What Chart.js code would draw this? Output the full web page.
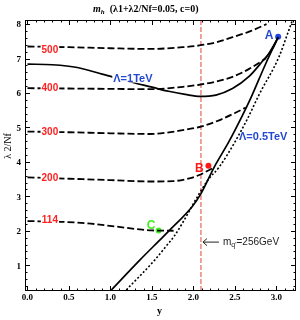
<!DOCTYPE html>
<html><head><meta charset="utf-8">
<script src="https://cdn.jsdelivr.net/npm/chart.js@4.4.0/dist/chart.umd.min.js"></script>
<style>html,body{margin:0;padding:0;background:#fff;}#wrap{width:300px;height:320px;}</style>
</head><body><div id="wrap"><canvas id="c" width="300" height="320"></canvas></div>
<script>
// ---- data ----
const mh500X = [0, 0.5, 1.0, 1.47, 1.87, 2.07, 2.27, 2.47, 2.67, 2.88];
const mh500Y = [7.35, 7.33, 7.30, 7.28, 7.33, 7.38, 7.47, 7.62, 7.78, 8.00];
const mh400X = [0, 0.5, 1.0, 1.47, 1.87, 2.07, 2.27, 2.47, 2.67, 2.87];
const mh400Y = [6.14, 6.13, 6.12, 6.11, 6.18, 6.24, 6.33, 6.47, 6.70, 7.00];
const mh400EndX = [2.87, 3.02];
const mh400EndY = [7.00, 7.62];
const mh300X = [0, 0.5, 1.0, 1.47, 1.87, 2.1, 2.3, 2.5, 2.63];
const mh300Y = [4.88, 4.86, 4.83, 4.81, 4.92, 5.03, 5.20, 5.42, 5.58];
const mh200X = [0, 0.5, 1.0, 1.47, 1.75, 1.95, 2.07, 2.25];
const mh200Y = [3.55, 3.51, 3.47, 3.43, 3.44, 3.52, 3.62, 3.84];
const mh114X = [0, 0.4, 0.7, 1.07, 1.35, 1.5, 1.76];
const mh114Y = [2.28, 2.26, 2.22, 2.12, 2.04, 2.01, 2.00];
const tev1X = [0, 0.3, 0.6, 0.9, 1.2, 1.5, 1.7, 1.9, 2.08, 2.27, 2.47, 2.67, 2.83, 2.95, 3.02];
const tev1Y = [6.84, 6.82, 6.74, 6.55, 6.35, 6.17, 6.05, 5.96, 5.90, 5.94, 6.13, 6.48, 6.92, 7.28, 7.62];
const boundX = [1.01, 1.35, 1.59, 1.71, 1.99, 2.09, 2.25, 2.43, 2.59, 2.69, 2.87, 3.02];
const boundY = [0.28, 1.14, 1.72, 2.01, 2.72, 3.08, 3.85, 4.60, 5.35, 5.85, 6.85, 7.62];
const tev05X = [1.19, 1.53, 1.67, 1.77, 2.17, 2.31, 2.49, 2.65, 2.79, 3.03, 3.13, 3.19];
const tev05Y = [0.28, 1.14, 1.55, 1.85, 3.46, 3.85, 4.54, 5.25, 5.95, 7.05, 7.70, 8.10];
const mqX = [2.09, 2.09];
const mqY = [0.25, 8.12];
const pointA = [3.02, 7.63];
const pointB = [2.18, 3.89];
const pointC = [1.58, 2.01];
const xTickValues = [0, 0.5, 1.0, 1.5, 2.0, 2.5, 3.0];
const xTickLabels = ['0.0', '0.5', '1.0', '1.5', '2.0', '2.5', '3.0'];
const yTickValues = [1, 2, 3, 4, 5, 6, 7, 8];
const yTickLabels = ['1', '2', '3', '4', '5', '6', '7', '8'];
const contourLabels = ['500', '400', '300', '200', '114'];
const contourLabelY = [7.25, 6.13, 4.86, 3.52, 2.30];

function pts(xs, ys) { return xs.map((x, i) => ({x: x, y: ys[i]})); }

const dashed = {borderColor: '#000', borderWidth: 1.8, borderDash: [7, 3], pointRadius: 0, showLine: true, cubicInterpolationMode: 'monotone', fill: false};

const datasets = [
  Object.assign({data: pts(mh500X, mh500Y)}, dashed),
  Object.assign({data: pts(mh400X, mh400Y)}, dashed),
  {data: pts(mh400EndX, mh400EndY), borderColor: '#000', borderWidth: 1.2, pointRadius: 0, showLine: true},
  Object.assign({data: pts(mh300X, mh300Y)}, dashed),
  Object.assign({data: pts(mh200X, mh200Y)}, dashed),
  Object.assign({data: pts(mh114X, mh114Y)}, dashed),
  {data: pts(tev1X, tev1Y), borderColor: '#000', borderWidth: 1.7, pointRadius: 0, showLine: true, cubicInterpolationMode: 'monotone'},
  {data: pts(boundX, boundY), borderColor: '#000', borderWidth: 1.7, pointRadius: 0, showLine: true, cubicInterpolationMode: 'monotone'},
  {data: pts(tev05X, tev05Y), borderColor: '#000', borderWidth: 1.6, borderDash: [2, 2], pointRadius: 0, showLine: true, cubicInterpolationMode: 'monotone'},
  {data: pts(mqX, mqY), borderColor: '#e8453c', borderWidth: 1, borderDash: [5, 2], pointRadius: 0, showLine: true},
  {data: [{x: pointA[0], y: pointA[1]}], pointRadius: 3, pointBackgroundColor: '#1f45e0', pointBorderWidth: 0, showLine: false},
  {data: [{x: pointB[0], y: pointB[1]}], pointRadius: 3, pointBackgroundColor: '#ff1a1a', pointBorderWidth: 0, showLine: false},
  {data: [{x: pointC[0], y: pointC[1]}], pointRadius: 3, pointBackgroundColor: '#44ee22', pointBorderWidth: 0, showLine: false}
];

function boxedText(ctx, t, x, y, padX) {
  const w = ctx.measureText(t).width;
  const fill = ctx.fillStyle;
  ctx.fillStyle = '#fff';
  ctx.fillRect(x - w / 2 - padX, y - 4, w + 2 * padX, 8);
  ctx.fillStyle = fill;
  ctx.fillText(t, x, y);
}

const decor = {
  id: 'decor',
  afterDatasetsDraw(chart) {
    const ctx = chart.ctx, xs = chart.scales.x, ys = chart.scales.y, a = chart.chartArea;
    ctx.save();
    // border
    ctx.strokeStyle = '#000'; ctx.lineWidth = 1;
    ctx.strokeRect(Math.round(a.left) + 0.5, Math.round(a.top) + 0.5, Math.round(a.right - a.left) - 1, Math.round(a.bottom - a.top) - 1);
    // ticks
    ctx.beginPath();
    for (let i = 0; i <= 32; i++) {
      const v = i / 10, px = Math.round(xs.getPixelForValue(v)) + 0.5;
      const len = (i % 5 === 0) ? 5 : 2.5;
      ctx.moveTo(px, a.bottom); ctx.lineTo(px, a.bottom - len);
      ctx.moveTo(px, a.top); ctx.lineTo(px, a.top + len);
    }
    for (let i = 2; i <= 40; i++) {
      const v = i / 5, py = Math.round(ys.getPixelForValue(v)) + 0.5;
      if (py < a.top || py > a.bottom) continue;
      const len = (i % 5 === 0) ? 5 : 2.5;
      ctx.moveTo(a.left, py); ctx.lineTo(a.left + len, py);
      ctx.moveTo(a.right, py); ctx.lineTo(a.right - len, py);
    }
    ctx.stroke();
    // tick labels
    ctx.fillStyle = '#000';
    ctx.font = 'bold 9px "Liberation Serif"';
    ctx.textAlign = 'center'; ctx.textBaseline = 'middle';
    xTickValues.forEach((v, i) => ctx.fillText(xTickLabels[i], xs.getPixelForValue(v), a.bottom + 7));
    ctx.textAlign = 'right';
    yTickValues.forEach((v, i) => ctx.fillText(yTickLabels[i], a.left - 4, ys.getPixelForValue(v) + 1));
    // axis titles
    ctx.textAlign = 'center';
    ctx.font = 'bold 10px "Liberation Serif"';
    ctx.fillText('y', (a.left + a.right) / 2 - 1, a.bottom + 20);
    ctx.save();
    ctx.translate(8, 146); ctx.rotate(-Math.PI / 2);
    ctx.font = '10px "Liberation Serif"';
    ctx.fillText('λ 2/Nf', 0, 0);
    ctx.restore();
    // title
    ctx.textAlign = 'left';
    let tx = 93, ty = 9;
    ctx.font = 'bold italic 10px "Liberation Serif"';
    ctx.fillText('m', tx, ty); tx += ctx.measureText('m').width;
    ctx.font = 'bold italic 7px "Liberation Serif"';
    ctx.fillText('h', tx, ty + 3); tx += ctx.measureText('h').width + 5;
    ctx.font = 'bold 10px "Liberation Serif"';
    ctx.fillText('(λ1+λ2/Nf=0.05, c=0)', tx, ty);
    // contour labels
    ctx.textAlign = 'center';
    ctx.font = 'bold 10px "Liberation Sans"';
    ctx.fillStyle = '#ff2020';
    contourLabels.forEach((t, i) => boxedText(ctx, t, xs.getPixelForValue(0.27), ys.getPixelForValue(contourLabelY[i]), 1));
    // Lambda labels
    ctx.fillStyle = '#2448d0';
    ctx.font = 'bold 11px "Liberation Sans"';
    boxedText(ctx, 'Λ=1TeV', xs.getPixelForValue(1.27), ys.getPixelForValue(6.42), 1);
    ctx.fillText('Λ=0.5TeV', xs.getPixelForValue(2.84), ys.getPixelForValue(4.71));
    ctx.font = 'bold 12px "Liberation Sans"';
    ctx.fillText('A', xs.getPixelForValue(2.91), ys.getPixelForValue(7.65));
    ctx.fillStyle = '#ff1a1a';
    ctx.fillText('B', xs.getPixelForValue(2.07), ys.getPixelForValue(3.8));
    ctx.fillStyle = '#44ee22';
    ctx.fillText('C', xs.getPixelForValue(1.49), ys.getPixelForValue(2.16));
    // arrow annotation
    const ay = ys.getPixelForValue(1.67);
    const ax0 = xs.getPixelForValue(2.09) + 2, ax1 = ax0 + 16;
    ctx.strokeStyle = '#222'; ctx.lineWidth = 1;
    ctx.beginPath();
    ctx.moveTo(ax1, ay); ctx.lineTo(ax0, ay);
    ctx.moveTo(ax0 + 4, ay - 3.5); ctx.lineTo(ax0, ay); ctx.lineTo(ax0 + 4, ay + 3.5);
    ctx.stroke();
    ctx.fillStyle = '#222';
    ctx.textAlign = 'left';
    let mx = ax1 + 4;
    ctx.font = '10px "Liberation Sans"';
    ctx.fillText('m', mx, ay); mx += ctx.measureText('m').width;
    ctx.font = '7px "Liberation Sans"';
    ctx.fillText("q'", mx, ay + 3); mx += ctx.measureText("q'").width;
    ctx.font = '10px "Liberation Sans"';
    ctx.fillText('=256GeV', mx, ay);
    ctx.restore();
  }
};

new Chart(document.getElementById('c'), {
  type: 'scatter',
  data: {datasets: datasets},
  options: {
    responsive: false,
    animation: false,
    layout: {padding: {left: 25, right: 3, top: 20, bottom: 29}},
    plugins: {legend: {display: false}, tooltip: {enabled: false}, title: {display: false}},
    scales: {
      x: {type: 'linear', min: -0.03, max: 3.235, display: false},
      y: {type: 'linear', min: 0.25, max: 8.12, display: false}
    }
  },
  plugins: [decor]
});
</script>
</body></html>
